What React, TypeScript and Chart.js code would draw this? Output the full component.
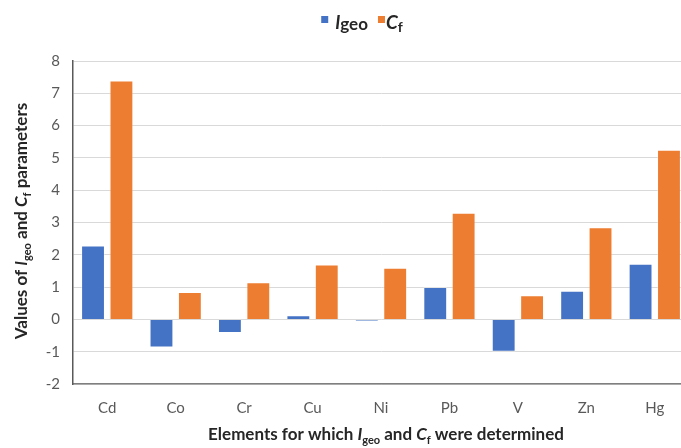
import React, { useEffect, useRef } from "react";
import { Chart, registerables } from "chart.js";

Chart.register(...registerables);

const categories = ["Cd", "Co", "Cr", "Cu", "Ni", "Pb", "V", "Zn", "Hg"];
const igeoValues = [2.29, -0.87, -0.42, 0.13, -0.05, 1.0, -1.0, 0.89, 1.72];
const cfValues = [7.4, 0.85, 1.15, 1.7, 1.6, 3.3, 0.75, 2.85, 5.25];
const yMin = -2;
const yMax = 8;
const yStep = 1;

const BLUE = "#4472C4";
const ORANGE = "#ED7D31";
const FONT = "Lato, 'Open Sans', sans-serif";
const TEXT_DARK = "#262626";

type Run = { text: string; italic?: boolean; size: number; dy?: number };

function runFont(r: Run) {
  return `${r.italic ? "italic " : ""}bold ${r.size}px ${FONT}`;
}

function measureRuns(ctx: CanvasRenderingContext2D, runs: Run[]) {
  let w = 0;
  for (const r of runs) {
    ctx.font = runFont(r);
    w += ctx.measureText(r.text).width;
  }
  return w;
}

function drawRuns(ctx: CanvasRenderingContext2D, runs: Run[], x: number, y: number) {
  let cx = x;
  ctx.textAlign = "left";
  ctx.textBaseline = "alphabetic";
  for (const r of runs) {
    ctx.font = runFont(r);
    ctx.fillText(r.text, cx, y + (r.dy || 0));
    cx += ctx.measureText(r.text).width;
  }
  return cx;
}

const textPlugin = {
  id: "richText",
  afterDraw(chart: any) {
    const ctx: CanvasRenderingContext2D = chart.ctx;
    ctx.save();
    ctx.fillStyle = TEXT_DARK;

    // Legend
    const legI: Run[] = [
      { text: "I", italic: true, size: 18 },
      { text: "geo", size: 17, dy: 1 },
    ];
    const legC: Run[] = [
      { text: "C", italic: true, size: 19 },
      { text: "f", size: 14, dy: 3 },
    ];
    const box = 7;
    const gapBox = 7;
    const gapItems = 10;
    const w1 = measureRuns(ctx, legI);
    const w2 = measureRuns(ctx, legC);
    const total = box + gapBox + w1 + gapItems + box + 1 + w2;
    let lx = 362 - total / 2;
    const ly = 29;
    ctx.fillStyle = BLUE;
    ctx.fillRect(lx, 16, box, box);
    lx += box + gapBox;
    ctx.fillStyle = TEXT_DARK;
    lx = drawRuns(ctx, legI, lx, ly);
    lx += gapItems;
    ctx.fillStyle = ORANGE;
    ctx.fillRect(lx, 16, box, box);
    lx += box + 1;
    ctx.fillStyle = TEXT_DARK;
    drawRuns(ctx, legC, lx, ly);

    // X axis title
    const xTitle: Run[] = [
      { text: "Elements for which ", size: 17 },
      { text: "I", italic: true, size: 17 },
      { text: "geo", size: 11, dy: 4 },
      { text: " and ", size: 17 },
      { text: "C", italic: true, size: 17 },
      { text: "f", size: 11, dy: 4 },
      { text: " were determined", size: 17 },
    ];
    const xw = measureRuns(ctx, xTitle);
    drawRuns(ctx, xTitle, 386 - xw / 2, 440);

    // Y axis title
    const yTitle: Run[] = [
      { text: "Values of ", size: 17 },
      { text: "I", italic: true, size: 17 },
      { text: "geo", size: 11, dy: 4 },
      { text: " and ", size: 17 },
      { text: "C", italic: true, size: 17 },
      { text: "f", size: 11, dy: 4 },
      { text: " parameters", size: 17 },
    ];
    const yw = measureRuns(ctx, yTitle);
    ctx.translate(27, 221);
    ctx.rotate(-Math.PI / 2);
    drawRuns(ctx, yTitle, -yw / 2, 0);
    ctx.restore();
  },
};

export default function App() {
  const ref = useRef<HTMLCanvasElement | null>(null);

  useEffect(() => {
    if (!ref.current) return;
    const chart = new Chart(ref.current, {
      type: "bar",
      data: {
        labels: categories,
        datasets: [
          {
            label: "Igeo",
            data: igeoValues,
            backgroundColor: BLUE,
            borderColor: "rgba(255,255,255,0.3)",
            borderWidth: 1,
            categoryPercentage: 0.83,
            barPercentage: 0.84,
          },
          {
            label: "Cf",
            data: cfValues,
            backgroundColor: ORANGE,
            borderColor: "rgba(255,255,255,0.3)",
            borderWidth: 1,
            categoryPercentage: 0.83,
            barPercentage: 0.84,
          },
        ],
      },
      options: {
        responsive: false,
        animation: false,
        devicePixelRatio: 1,
        layout: { padding: { left: 0, right: 11, top: 61, bottom: 0 } },
        plugins: {
          legend: { display: false },
          tooltip: { enabled: false },
          title: { display: false },
        },
        scales: {
          x: {
            grid: { display: false, drawTicks: false },
            border: { display: true, color: "#7f7f7f", width: 1.5 },
            ticks: { color: "#595959", font: { family: FONT, size: 15 }, padding: 15 },
            afterFit: (s: any) => {
              s.height = 64;
            },
          },
          y: {
            min: yMin,
            max: yMax,
            grid: { color: "#d9d9d9", drawTicks: false },
            border: { display: true, color: "#595959", width: 1.5 },
            ticks: {
              stepSize: yStep,
              color: "#595959",
              font: { family: FONT, size: 15 },
              padding: 13,
            },
            afterFit: (s: any) => {
              s.width = 73;
            },
          },
        },
      },
      plugins: [textPlugin],
    });
    return () => chart.destroy();
  }, []);

  return (
    <div
      style={{
        position: "fixed",
        left: 0,
        top: 0,
        width: 681,
        height: 448,
        overflow: "hidden",
        background: "#fff",
      }}
    >
      <canvas ref={ref} width={700} height={448} style={{ display: "block" }} />
    </div>
  );
}
